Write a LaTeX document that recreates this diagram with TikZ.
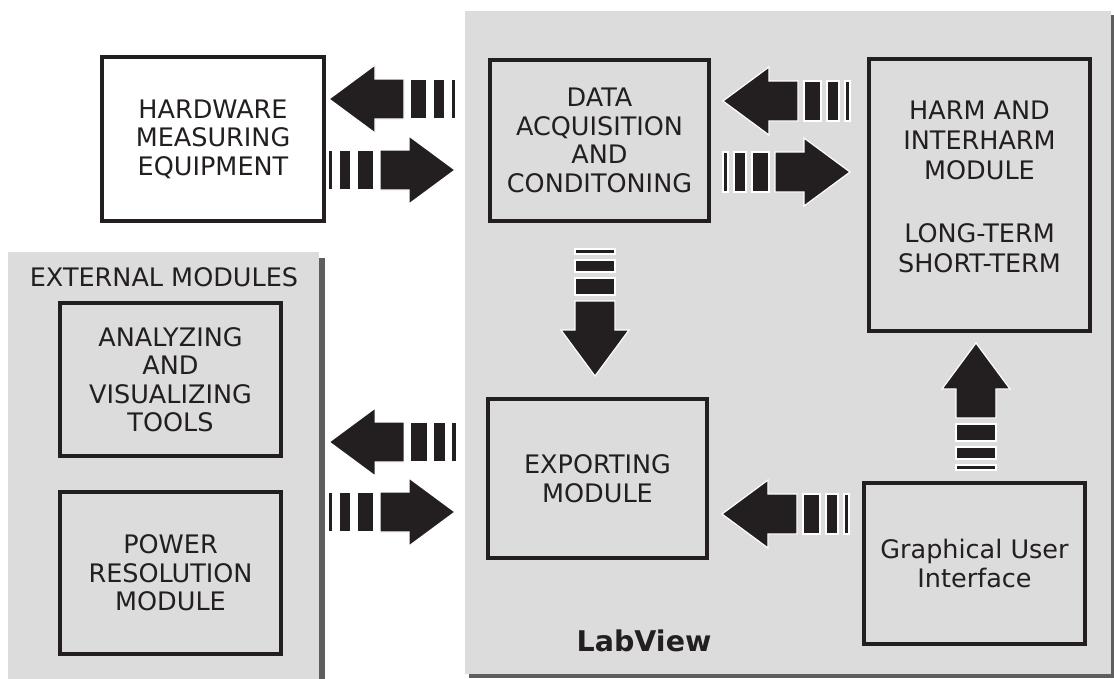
\documentclass[tikz,border=0pt]{standalone}
\usepackage{fontspec}
\setmainfont{DejaVu Sans}
\usetikzlibrary{calc,shadows}
\definecolor{ink}{HTML}{231F20}
\definecolor{panel}{HTML}{DCDCDC}
\definecolor{shade}{HTML}{5E5E5E}
\tikzset{
  x=1pt, y=-1pt,
  txt/.style={text=ink, align=center, font=\fontsize{25.5}{28.5}\selectfont},
  box/.style={txt, draw=ink, line width=4pt, fill=#1, inner sep=0pt},
  box/.default=panel,
  panelbox/.style={fill=panel, inner sep=0pt},
  % striped block arrow pointing along +x, tip at the origin
  fatarrow/.pic={
    \begin{scope}[fill=ink, draw=white, line width=1.2pt]
      \filldraw (0,0) -- (-46,34) -- (-46,20) -- (-75,20) -- (-75,-20)
        -- (-46,-20) -- (-46,-34) -- cycle;
      \filldraw (-81,-20) rectangle (-98,20);
      \filldraw (-104,-20) rectangle (-116,20);
      \filldraw (-122,-20) rectangle (-127,20);
    \end{scope}
  }
}
\begin{document}
\begin{tikzpicture}
\useasboundingbox (0,0) rectangle (1114,678);
\fill[white] (0,0) rectangle (1114,678);

% panels
\node[panelbox, minimum width=646pt, minimum height=663pt,
      drop shadow={shadow xshift=3.5pt, shadow yshift=-3.5pt, fill=shade, opacity=1}]
  (labview) at (788,342.5) {};
\node[panelbox, minimum width=311pt, minimum height=430pt,
      drop shadow={shadow xshift=6pt, shadow yshift=-6pt, fill=shade, opacity=1}]
  (external) at (163.5,467) {};

\node[txt] (exttitle) at (164,277) {EXTERNAL MODULES};
\node[txt, font=\bfseries\fontsize{28.5}{30}\selectfont] (lvtitle) at (644,641) {LabView};

% module boxes
\node[box=white, minimum width=222pt, minimum height=164pt] (hw) at (213,139)
  {HARDWARE\\MEASURING\\EQUIPMENT};
\node[box, minimum width=219pt, minimum height=161pt] (daq) at (599.5,140.5)
  {DATA\\ACQUISITION\\AND\\CONDITONING};
\node[box, minimum width=221pt, minimum height=272pt] (harm) at (979.5,195) {};
\node[txt, font=\fontsize{25.5}{30}\selectfont] (harmtxt) at (979.5,187)
  {HARM AND\\INTERHARM\\MODULE\\[33pt]LONG-TERM\\SHORT-TERM};
\node[box, minimum width=219pt, minimum height=159pt] (exp) at (597.5,478.5)
  {EXPORTING\\MODULE};
\node[box, minimum width=221pt, minimum height=161pt] (gui) at (974.5,563.5)
  {Graphical User\\Interface};
\node[box, minimum width=221pt, minimum height=153pt] (ana) at (170.5,379.5)
  {ANALYZING\\AND\\VISUALIZING\\TOOLS};
\node[box, minimum width=221pt, minimum height=162pt] (pow) at (170.5,573)
  {POWER\\RESOLUTION\\MODULE};

% data flow arrows
\pic[rotate=180] at ($(hw.east)+(3,-40)$) {fatarrow};
\pic at ($(daq.west)+(-33,29.5)$) {fatarrow};
\pic[rotate=180] at ($(daq.east)+(12,-39.5)$) {fatarrow};
\pic at ($(harm.west)+(-17,-23)$) {fatarrow};
\pic[rotate=-90] at ($(exp.north)+(-2.5,-21)$) {fatarrow};
\pic[rotate=90] at ($(harm.south)+(-3.5,10)$) {fatarrow};
\pic[rotate=180] at ($(external.east)+(10,-25)$) {fatarrow};
\pic at ($(exp.west)+(-31,33.5)$) {fatarrow};
\pic[rotate=180] at ($(exp.east)+(13,35.5)$) {fatarrow};
\end{tikzpicture}
\end{document}
